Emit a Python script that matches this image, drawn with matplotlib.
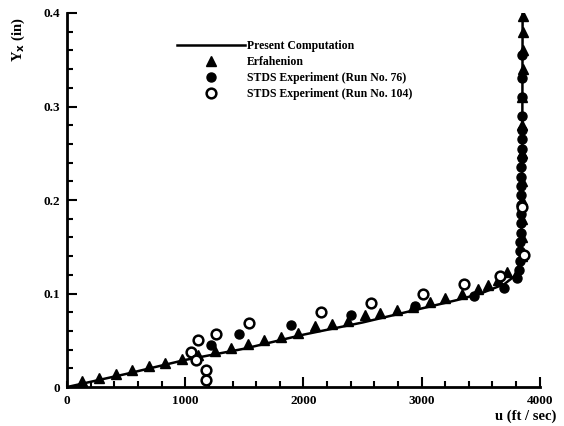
import numpy as np
import matplotlib.pyplot as plt
from matplotlib.ticker import MultipleLocator

# present computation (solid line)
comp_u = [0, 500, 1000, 1500, 1800, 2000, 2500, 3000, 3300, 3500, 3700, 3780, 3820, 3840, 3848, 3852, 3855]
comp_y = [0, 0.014, 0.029, 0.041, 0.050, 0.056, 0.069, 0.084, 0.093, 0.100, 0.110, 0.118, 0.128, 0.145, 0.18, 0.25, 0.40]

# triangles
erf_u = [130, 270, 410, 550, 690, 830, 970, 1110, 1250, 1390, 1530, 1670, 1810, 1950,
         2100, 2240, 2380, 2520, 2650, 2790, 2930, 3070, 3200, 3340, 3475, 3560, 3650, 3720,
         3850, 3850, 3852, 3852, 3853, 3853, 3854, 3854, 3855, 3856, 3857, 3858]
erf_y = [0.006, 0.010, 0.014, 0.018, 0.022, 0.026, 0.030, 0.034, 0.038, 0.042, 0.046, 0.050, 0.054, 0.058,
         0.065, 0.067, 0.071, 0.077, 0.079, 0.082, 0.086, 0.091, 0.095, 0.099, 0.105, 0.109, 0.114, 0.123,
         0.14, 0.16, 0.18, 0.20, 0.22, 0.25, 0.28, 0.31, 0.34, 0.36, 0.38, 0.397]

# STDS run 76 (filled circles)
r76_u = [1215, 1455, 1895, 2405, 2940, 3440, 3695, 3805,
         3825, 3830, 3835, 3835, 3838, 3840, 3840, 3842, 3842, 3843, 3845, 3845, 3846, 3846,
         3847, 3848, 3848, 3849, 3849, 3850]
r76_y = [0.045, 0.057, 0.066, 0.077, 0.087, 0.097, 0.106, 0.117,
         0.125, 0.135, 0.145, 0.155, 0.165, 0.175, 0.185, 0.195, 0.205, 0.215, 0.225, 0.235, 0.245, 0.255,
         0.265, 0.275, 0.29, 0.31, 0.33, 0.355]

# STDS run 104 (open circles)
r104_u = [1045, 1105, 1088, 1172, 1172, 1257, 1538, 2150, 2575, 3016, 3356, 3662, 3866, 3850]
r104_y = [0.037, 0.050, 0.029, 0.018, 0.008, 0.057, 0.068, 0.080, 0.090, 0.100, 0.110, 0.119, 0.141, 0.192]

plt.rcParams['font.family'] = 'Liberation Serif'
plt.rcParams['font.weight'] = 'bold'

fig = plt.figure(figsize=(5.64, 4.26), dpi=100)
ax = fig.add_axes([0.119, 0.0915, 0.838, 0.878])

ax.plot(comp_u, comp_y, color='black', lw=1.8, label='Present Computation')
ax.plot(erf_u, erf_y, '^', color='black', ms=6.5, ls='none', label='Erfahenion')
ax.plot(r76_u, r76_y, 'o', color='black', ms=6.5, ls='none', label='STDS Experiment (Run No. 76)')
ax.plot(r104_u, r104_y, 'o', mfc='white', mec='black', mew=1.8, ms=7, ls='none',
        label='STDS Experiment (Run No. 104)')

ax.set_xlim(0, 4000)
ax.set_ylim(0, 0.4)
ax.spines['top'].set_visible(False)
ax.spines['right'].set_visible(False)
ax.spines['left'].set_linewidth(2)
ax.spines['bottom'].set_linewidth(2)

ax.xaxis.set_major_locator(MultipleLocator(1000))
ax.xaxis.set_minor_locator(MultipleLocator(200))
ax.yaxis.set_major_locator(MultipleLocator(0.1))
ax.yaxis.set_minor_locator(MultipleLocator(0.02))
ax.tick_params(which='both', direction='in', width=1.5)
ax.tick_params(which='major', length=7, labelsize=9.5)
ax.tick_params(axis='x', which='major', pad=6)
ax.tick_params(axis='y', which='major', pad=5)
ax.tick_params(which='minor', length=4)
ax.set_xticks([1000, 2000, 3000, 4000])
ax.set_xticklabels(['1000', '2000', '3000', '4000'])
ax.set_yticks([0, 0.1, 0.2, 0.3, 0.4])
ax.set_yticklabels(['0', '0.1', '0.2', '0.3', '0.4'])
fig.text(67 / 564, 1 - 401 / 426, '0', ha='center', va='center', fontsize=9.5, fontweight='bold')

fig.text(18 / 564, 1 - 40 / 426, r'Y$_\mathbf{x}$ (in)', rotation=90, ha='center', va='center',
         fontsize=10.5, fontweight='bold')
fig.text(556 / 564, 1 - 416 / 426, 'u (ft / sec)', ha='right', va='center', fontsize=10.5, fontweight='bold')

ax.legend(loc='upper left', bbox_to_anchor=(0.215, 0.95), frameon=False, fontsize=8.5,
          handlelength=5.8, handletextpad=0.1, labelspacing=0.35, borderpad=0.2)

fig.savefig('out.png', dpi=100)
